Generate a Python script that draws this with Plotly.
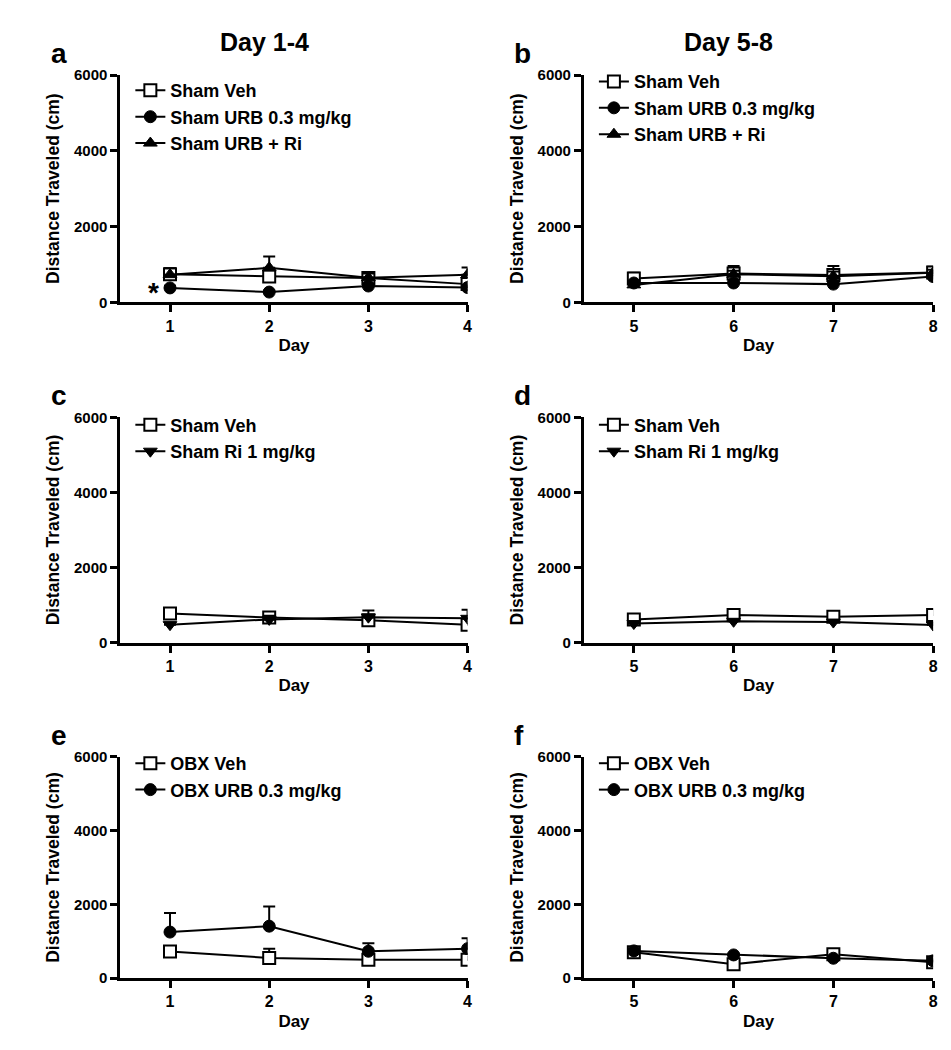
import plotly.graph_objects as go

# ---------------- data ----------------
days_1_4 = [1, 2, 3, 4]
days_5_8 = [5, 6, 7, 8]

# panel a (Day 1-4, sham)
a_veh = [740, 680, 640, 480]
a_veh_err = [150, 120, 90, 80]
a_urb = [380, 270, 430, 390]
a_urb_err = [60, 40, 60, 50]
a_urbri = [730, 910, 650, 730]
a_urbri_err = [170, 300, 110, 190]

# panel b (Day 5-8, sham)
b_veh = [630, 760, 720, 790]
b_veh_err = [150, 200, 240, 150]
b_urb = [510, 510, 480, 680]
b_urb_err = [60, 60, 60, 60]
b_urbri = [460, 740, 690, 780]
b_urbri_err = [60, 90, 120, 80]

# panel c (Day 1-4, sham Ri)
c_veh = [780, 670, 600, 480]
c_veh_err = [140, 120, 100, 90]
c_ri = [480, 620, 680, 650]
c_ri_err = [60, 100, 180, 230]

# panel d (Day 5-8, sham Ri)
d_veh = [620, 740, 690, 740]
d_veh_err = [60, 100, 90, 150]
d_ri = [510, 570, 550, 470]
d_ri_err = [40, 50, 50, 50]

# panel e (Day 1-4, OBX)
e_veh = [720, 550, 500, 500]
e_veh_err = [130, 250, 80, 80]
e_urb = [1250, 1410, 730, 800]
e_urb_err = [520, 530, 220, 280]

# panel f (Day 5-8, OBX)
f_veh = [700, 380, 650, 430]
f_veh_err = [60, 60, 60, 40]
f_urb = [740, 630, 540, 470]
f_urb_err = [40, 40, 40, 40]

y_ticks = [0, 2000, 4000, 6000]
panel_letters = ["a", "b", "c", "d", "e", "f"]
col_titles = ["Day 1-4", "Day 5-8"]

FONT = "Arial, Liberation Sans, sans-serif"

W, H = 951, 1050

# ---------------- figure ----------------
fig = go.Figure()

MARKERS = {
    "sq": dict(symbol="square", color="white", size=12, line=dict(color="black", width=2)),
    "ci": dict(symbol="circle", color="black", size=12, line=dict(color="black", width=1)),
    "tu": dict(symbol="triangle-up", color="black", size=12, line=dict(color="black", width=1)),
    "td": dict(symbol="triangle-down", color="black", size=12, line=dict(color="black", width=1)),
}


def add(days, vals, errs, name, mk, idx):
    suffix = "" if idx == 1 else str(idx)
    fig.add_trace(go.Scatter(
        x=days, y=vals, name=name, mode="lines+markers",
        line=dict(color="black", width=2),
        marker=MARKERS[mk],
        error_y=dict(type="data", array=errs, arrayminus=[0] * len(errs), symmetric=False,
                     color="black", thickness=2, width=6),
        xaxis="x" + suffix, yaxis="y" + suffix,
        legend="legend" + suffix,
    ))


add(days_1_4, a_veh, a_veh_err, "Sham Veh", "sq", 1)
add(days_1_4, a_urb, a_urb_err, "Sham URB 0.3 mg/kg", "ci", 1)
add(days_1_4, a_urbri, a_urbri_err, "Sham URB + Ri", "tu", 1)

add(days_5_8, b_veh, b_veh_err, "Sham Veh", "sq", 2)
add(days_5_8, b_urb, b_urb_err, "Sham URB 0.3 mg/kg", "ci", 2)
add(days_5_8, b_urbri, b_urbri_err, "Sham URB + Ri", "tu", 2)

add(days_1_4, c_veh, c_veh_err, "Sham Veh", "sq", 3)
add(days_1_4, c_ri, c_ri_err, "Sham Ri 1 mg/kg", "td", 3)

add(days_5_8, d_veh, d_veh_err, "Sham Veh", "sq", 4)
add(days_5_8, d_ri, d_ri_err, "Sham Ri 1 mg/kg", "td", 4)

add(days_1_4, e_veh, e_veh_err, "OBX Veh", "sq", 5)
add(days_1_4, e_urb, e_urb_err, "OBX URB 0.3 mg/kg", "ci", 5)

add(days_5_8, f_veh, f_veh_err, "OBX Veh", "sq", 6)
add(days_5_8, f_urb, f_urb_err, "OBX URB 0.3 mg/kg", "ci", 6)

# pixel geometry of each panel: (left, right, top(6000), bottom(0))
cols = [(113, 462), (579, 930)]
rows = [(59, 290), (407, 636), (752, 977)]
legend_tops = [(56, 47), (396, 396), (740, 740)]

layout = dict(
    width=W, height=H, margin=dict(l=0, r=0, t=0, b=0),
    paper_bgcolor="white", plot_bgcolor="white",
    font=dict(family=FONT, color="black", size=15, weight="bold"),
    showlegend=True,
)

annotations = []
idx = 0
for r, (top, bot) in enumerate(rows):
    for c, (left, right) in enumerate(cols):
        idx += 1
        s = "" if idx == 1 else str(idx)
        days = days_1_4 if c == 0 else days_5_8
        xa = dict(
            domain=[left / W, right / W], anchor="y" + s,
            range=[days[0] - 0.5, days[-1]], tickvals=days,
            showline=True, linecolor="black", linewidth=3,
            ticks="outside", ticklen=7, tickwidth=3, tickcolor="black",
            showgrid=False, zeroline=False,
            tickfont=dict(family=FONT, size=16, weight="bold"),
            title=dict(text="Day", font=dict(family=FONT, size=17, weight="bold"), standoff=6),
        )
        ya = dict(
            domain=[1 - bot / H, 1 - top / H], anchor="x" + s,
            range=[0, 6000], tickvals=y_ticks,
            showline=True, linecolor="black", linewidth=3,
            ticks="outside", ticklen=7, tickwidth=3, tickcolor="black",
            showgrid=False, zeroline=False,
            tickfont=dict(family=FONT, size=15, weight="bold"),
            title=dict(text="Distance Traveled (cm)", font=dict(family=FONT, size=17.5, weight="bold"),
                       standoff=10),
        )
        layout["xaxis" + s] = xa
        layout["yaxis" + s] = ya
        lt = legend_tops[r][c]
        layout["legend" + s] = dict(
            x=(left + 10) / W, y=1 - lt / H, xanchor="left", yanchor="top",
            bgcolor="rgba(0,0,0,0)", borderwidth=0,
            font=dict(family=FONT, size=18, weight="bold", color="black"),
            tracegroupgap=0, itemwidth=30,
        )
        annotations.append(dict(
            text=panel_letters[idx - 1], xref="paper", yref="paper",
            x=(left - 72) / W, y=1 - (top - 22) / H, xanchor="left", yanchor="middle",
            showarrow=False, font=dict(family=FONT, size=28, weight="bold"),
        ))

for c, (left, right) in enumerate(cols):
    annotations.append(dict(
        text=col_titles[c], xref="paper", yref="paper",
        x=(left + right - 60) / 2 / W,
        y=1 - 25 / H, xanchor="center", yanchor="middle",
        showarrow=False, font=dict(family=FONT, size=25, weight="bold"),
    ))

# significance asterisk next to Sham URB day 1
annotations.append(dict(
    text="*", x=days_1_4[0], y=a_urb[0], xref="x", yref="y",
    xanchor="right", yanchor="middle", xshift=-9, yshift=-5, showarrow=False,
    font=dict(family=FONT, size=28, weight="bold"),
))

layout["annotations"] = annotations
fig.update_layout(**layout)

fig.write_html("out.html")
